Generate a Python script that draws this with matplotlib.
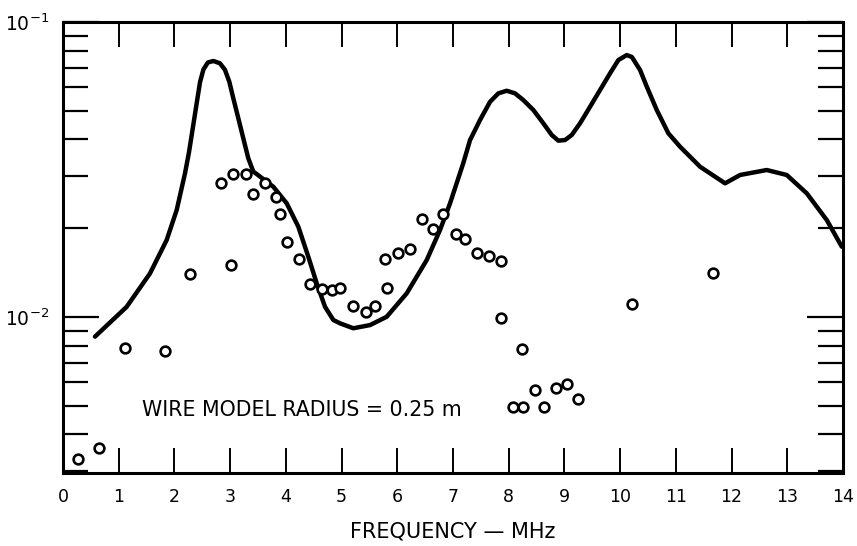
import matplotlib
matplotlib.use("Agg")
import matplotlib.pyplot as plt
from matplotlib.ticker import FixedLocator, FixedFormatter, NullFormatter

plt.rcParams["font.family"] = ["DejaVu Sans"]
plt.rcParams["mathtext.fontset"] = "dejavusans"

# Calculated response (solid curve)
calc_freq = [0.574, 1.143, 1.562, 1.861, 2.041, 2.190, 2.260, 2.330, 2.400, 2.460,
             2.520, 2.600, 2.698, 2.818, 2.908, 2.985, 3.057, 3.147, 3.236, 3.326,
             3.416, 3.476, 3.775, 4.015, 4.224, 4.403, 4.554, 4.703, 4.852, 4.972,
             5.211, 5.511, 5.810, 6.169, 6.528, 6.767, 6.947, 7.185, 7.306, 7.485,
             7.665, 7.814, 7.964, 8.113, 8.262, 8.442, 8.621, 8.772, 8.891, 9.011,
             9.131, 9.280, 9.460, 9.639, 9.819, 9.968, 10.118, 10.210, 10.357, 10.478,
             10.657, 10.865, 11.075, 11.434, 11.883, 12.152, 12.631, 12.990, 13.349, 13.708,
             13.978]
calc_val = [0.00858, 0.01083, 0.01406, 0.01824, 0.02306, 0.03070, 0.03606, 0.04373, 0.05313, 0.06262,
            0.06902, 0.07290, 0.07377, 0.07244, 0.06877, 0.06276, 0.05511, 0.04716, 0.04035, 0.03451,
            0.03109, 0.03053, 0.02764, 0.02429, 0.02023, 0.01601, 0.01301, 0.01083, 0.00977, 0.00952,
            0.00916, 0.00939, 0.01002, 0.01203, 0.01560, 0.01972, 0.02429, 0.03327, 0.03981, 0.04654,
            0.05366, 0.05730, 0.05848, 0.05730, 0.05438, 0.05031, 0.04535, 0.04140, 0.03960, 0.03981,
            0.04140, 0.04535, 0.05163, 0.05881, 0.06702, 0.07432, 0.07726, 0.07611, 0.06877, 0.06036,
            0.05031, 0.04195, 0.03778, 0.03232, 0.02839, 0.03030, 0.03150, 0.03030, 0.02626, 0.02132,
            0.01731]

# Measured points (open circles)
meas_freq = [0.275, 0.646, 1.113, 1.831, 2.280, 2.836, 3.010, 3.057, 3.280, 3.416,
             3.631, 3.829, 3.895, 4.016, 4.236, 4.428, 4.654, 4.829, 4.972, 5.211,
             5.439, 5.600, 5.780, 5.810, 6.019, 6.229, 6.439, 6.636, 6.816, 7.054,
             7.221, 7.437, 7.641, 7.853, 7.862, 8.239, 8.083, 8.262, 8.467, 8.639,
             8.844, 9.041, 9.250, 10.208, 11.673]
meas_val = [0.00330, 0.00359, 0.00783, 0.00769, 0.01396, 0.0285, 0.0150, 0.0305, 0.0305, 0.0262,
            0.0285, 0.0256, 0.0223, 0.0179, 0.01574, 0.01291, 0.01242, 0.01236, 0.01251, 0.01092,
            0.01037, 0.01089, 0.0157, 0.0125, 0.01644, 0.01694, 0.02143, 0.01982, 0.0223, 0.01905,
            0.01834, 0.01652, 0.0161, 0.01546, 0.00995, 0.0078, 0.00494, 0.00494, 0.00566, 0.00494,
            0.00573, 0.00593, 0.00526, 0.01107, 0.01406]

x_ticks = list(range(0, 15))
y_major = [1e-2, 1e-1]
y_major_labels = [r"$10^{-2}$", r"$10^{-1}$"]
y_minor = [3e-3, 4e-3, 5e-3, 6e-3, 7e-3, 8e-3, 9e-3,
           2e-2, 3e-2, 4e-2, 5e-2, 6e-2, 7e-2, 8e-2, 9e-2]

fig = plt.figure(figsize=(8.57, 5.46), dpi=100)
ax = fig.add_axes([0.0735, 0.1337, 0.9102, 0.826])

ax.plot(calc_freq, calc_val, color="black", lw=3.2, solid_capstyle="round",
        solid_joinstyle="round", zorder=2)
ax.plot(meas_freq, meas_val, linestyle="none", marker="o", markersize=7,
        markerfacecolor="white", markeredgecolor="black", markeredgewidth=1.9, zorder=3)

ax.set_yscale("log")
ax.set_xlim(0, 14)
ax.set_ylim(0.00296, 0.1)

ax.xaxis.set_major_locator(FixedLocator(x_ticks))
ax.set_xticklabels([str(v) for v in x_ticks])
ax.yaxis.set_major_locator(FixedLocator(y_major))
ax.yaxis.set_major_formatter(FixedFormatter(y_major_labels))
ax.yaxis.set_minor_locator(FixedLocator(y_minor))
ax.yaxis.set_minor_formatter(NullFormatter())

ax.tick_params(axis="x", which="major", direction="in", length=18, width=1.4,
               top=True, bottom=True, pad=11, labelsize=12.5)
ax.tick_params(axis="y", which="major", direction="in", length=26, width=1.6,
               left=True, right=True, pad=10, labelsize=13.5)
ax.tick_params(axis="y", which="minor", direction="in", length=18, width=1.6,
               left=True, right=True)

for side in ax.spines.values():
    side.set_linewidth(2.2)

ax.text(1.42, 0.00484, "WIRE MODEL RADIUS = 0.25 m", fontsize=14.8,
        va="center", ha="left")
ax.set_xlabel("FREQUENCY \u2014 MHz", fontsize=15, labelpad=11)

plt.savefig("out.png", dpi=100)
